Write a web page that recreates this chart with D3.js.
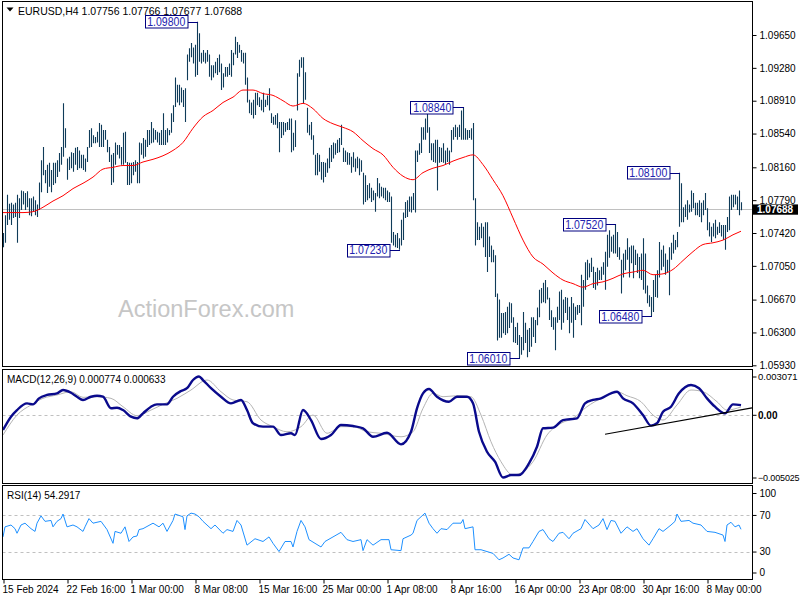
<!DOCTYPE html>
<html><head><meta charset="utf-8">
<script src="https://cdn.jsdelivr.net/npm/d3@7"></script>
<style>
body{margin:0;background:#fff}
svg{display:block}
text{font-family:"Liberation Sans",Arial,sans-serif}
</style>
</head><body><svg id="c" width="800" height="600"></svg>
<script>
// ---------------- DATA ----------------
const symbol = "EURUSD,H4";
const lastBar = {open:1.07756, high:1.07766, low:1.07677, close:1.07688};

const highs = [
1.0742,1.0762,1.0785,1.0775,1.0776,1.0774,1.0776,1.0785,1.0781,1.0790,
1.0789,1.0787,1.0789,1.0781,1.0781,1.0783,1.0779,1.0774,1.0799,1.0824,
1.0839,1.0813,1.0819,1.0821,1.0813,1.0821,1.0821,1.0824,1.0832,1.0839,
1.0888,1.0860,1.0826,1.0828,1.0833,1.0832,1.0838,1.0839,1.0835,1.0830,
1.0830,1.0826,1.0839,1.0858,1.0860,1.0852,1.0850,1.0856,1.0866,1.0864,
1.0858,1.0858,1.0847,1.0839,1.0830,1.0832,1.0844,1.0841,1.0841,1.0839,
1.0855,1.0856,1.0822,1.0821,1.0821,1.0822,1.0824,1.0822,1.0844,1.0843,
1.0849,1.0847,1.0858,1.0858,1.0867,1.0860,1.0858,1.0856,1.0855,1.0858,
1.0877,1.0858,1.0860,1.0858,1.0877,1.0886,1.0917,1.0909,1.0909,1.0906,
1.0903,1.0905,1.0943,1.0950,1.0956,1.0951,1.0954,1.0980,1.0967,1.0945,
1.0948,1.0945,1.0948,1.0943,1.0931,1.0931,1.0935,1.0939,1.0943,1.0933,
1.0922,1.0929,1.0929,1.0933,1.0948,1.0945,1.0963,1.0957,1.0954,1.0948,
1.0945,1.0945,1.0917,1.0892,1.0889,1.0892,1.0900,1.0900,1.0895,1.0892,
1.0900,1.0892,1.0897,1.0905,1.0877,1.0873,1.0875,1.0877,1.0867,1.0867,
1.0867,1.0866,1.0867,1.0871,1.0871,1.0855,1.0869,1.0922,1.0937,1.0940,
1.0940,1.0923,1.0883,1.0864,1.0867,1.0852,1.0830,1.0832,1.0830,1.0822,
1.0822,1.0821,1.0826,1.0838,1.0841,1.0844,1.0843,1.0847,1.0849,1.0864,
1.0838,1.0835,1.0833,1.0832,1.0828,1.0833,1.0826,1.0828,1.0826,1.0824,
1.0810,1.0807,1.0796,1.0798,1.0793,1.0790,1.0787,1.0804,1.0798,1.0794,
1.0793,1.0793,1.0790,1.0788,1.0783,1.0743,1.0740,1.0742,1.0736,1.0757,
1.0765,1.0777,1.0779,1.0783,1.0783,1.0787,1.0835,1.0835,1.0843,1.0861,
1.0861,1.0871,1.0878,1.0861,1.0843,1.0843,1.0847,1.0847,1.0839,1.0838,
1.0843,1.0835,1.0838,1.0835,1.0858,1.0861,1.0864,1.0861,1.0864,1.0880,
1.0884,1.0860,1.0858,1.0858,1.0860,1.0866,1.0781,1.0754,1.0749,1.0753,
1.0749,1.0754,1.0754,1.0738,1.0728,1.0723,1.0717,1.0674,1.0667,1.0652,
1.0652,1.0653,1.0659,1.0664,1.0663,1.0647,1.0636,1.0641,1.0627,1.0625,
1.0653,1.0641,1.0633,1.0635,1.0647,1.0647,1.0644,1.0658,1.0678,1.0680,
1.0686,1.0689,1.0681,1.0669,1.0655,1.0647,1.0647,1.0659,1.0676,1.0678,
1.0667,1.0670,1.0669,1.0659,1.0670,1.0663,1.0659,1.0661,1.0661,1.0695,
1.0689,1.0709,1.0712,1.0708,1.0714,1.0704,1.0698,1.0703,1.0700,1.0704,
1.0709,1.0721,1.0740,1.0745,1.0738,1.0740,1.0752,1.0743,1.0726,1.0712,
1.0719,1.0723,1.0736,1.0726,1.0728,1.0728,1.0723,1.0719,1.0715,1.0719,
1.0736,1.0719,1.0683,1.0672,1.0670,1.0689,1.0695,1.0700,1.0732,1.0723,
1.0728,1.0719,1.0712,1.0726,1.0731,1.0740,1.0734,1.0743,1.0810,1.0798,
1.0771,1.0774,1.0779,1.0774,1.0790,1.0787,1.0776,1.0776,1.0779,1.0776,
1.0779,1.0787,1.0770,1.0754,1.0749,1.0753,1.0757,1.0749,1.0754,1.0751,
1.0751,1.0751,1.0760,1.0783,1.0785,1.0785,1.0785,1.0783,1.0790,1.07766
];
const lows = [
1.0726,1.0731,1.0751,1.0757,1.0751,1.0759,1.0760,1.0731,1.0759,1.0768,
1.0774,1.0768,1.0771,1.0762,1.0761,1.0766,1.0762,1.0760,1.0768,1.0788,
1.0807,1.0798,1.0787,1.0794,1.0788,1.0796,1.0798,1.0805,1.0811,1.0819,
1.0828,1.0838,1.0802,1.0813,1.0815,1.0811,1.0819,1.0813,1.0815,1.0815,
1.0813,1.0811,1.0822,1.0838,1.0839,1.0843,1.0843,1.0844,1.0839,1.0839,
1.0839,1.0847,1.0833,1.0822,1.0796,1.0799,1.0819,1.0830,1.0826,1.0819,
1.0819,1.0821,1.0796,1.0796,1.0798,1.0807,1.0811,1.0798,1.0798,1.0830,
1.0826,1.0828,1.0839,1.0841,1.0843,1.0844,1.0847,1.0844,1.0841,1.0841,
1.0841,1.0841,1.0844,1.0852,1.0855,1.0867,1.0884,1.0889,1.0886,1.0889,
1.0884,1.0867,1.0914,1.0935,1.0940,1.0933,1.0918,1.0920,1.0935,1.0933,
1.0935,1.0933,1.0935,1.0918,1.0914,1.0917,1.0922,1.0920,1.0923,1.0903,
1.0906,1.0918,1.0918,1.0920,1.0918,1.0931,1.0943,1.0939,1.0945,1.0935,
1.0933,1.0909,1.0889,1.0877,1.0875,1.0871,1.0875,1.0886,1.0884,1.0880,
1.0878,1.0884,1.0886,1.0880,1.0866,1.0864,1.0864,1.0860,1.0833,1.0849,
1.0852,1.0856,1.0858,1.0858,1.0833,1.0835,1.0839,1.0880,1.0918,1.0928,
1.0888,1.0892,1.0855,1.0852,1.0847,1.0830,1.0807,1.0807,1.0811,1.0802,
1.0799,1.0805,1.0810,1.0815,1.0822,1.0826,1.0830,1.0832,1.0833,1.0841,
1.0822,1.0822,1.0819,1.0819,1.0810,1.0816,1.0811,1.0815,1.0807,1.0811,
1.0774,1.0777,1.0779,1.0781,1.0777,1.0779,1.0766,1.0783,1.0781,1.0783,
1.0781,1.0779,1.0777,1.0777,1.0731,1.0728,1.0726,1.0725,1.0723,1.0728,
1.0734,1.0759,1.0760,1.0766,1.0765,1.0768,1.0765,1.0822,1.0830,1.0832,
1.0847,1.0847,1.0855,1.0832,1.0824,1.0822,1.0821,1.0790,1.0821,1.0822,
1.0821,1.0819,1.0822,1.0819,1.0833,1.0847,1.0850,1.0847,1.0850,1.0847,
1.0847,1.0847,1.0847,1.0849,1.0847,1.0779,1.0728,1.0734,1.0734,1.0736,
1.0726,1.0715,1.0698,1.0715,1.0709,1.0709,1.0670,1.0621,1.0624,1.0624,
1.0629,1.0627,1.0629,1.0635,1.0641,1.0619,1.0618,1.0616,1.0601,1.0605,
1.0610,1.0618,1.0602,1.0608,1.0614,1.0625,1.0618,1.0638,1.0647,1.0663,
1.0664,1.0663,1.0667,1.0644,1.0636,1.0633,1.0610,1.0641,1.0644,1.0633,
1.0641,1.0652,1.0644,1.0629,1.0641,1.0624,1.0644,1.0650,1.0652,1.0638,
1.0659,1.0678,1.0689,1.0692,1.0698,1.0680,1.0678,1.0683,1.0689,1.0689,
1.0695,1.0678,1.0704,1.0714,1.0721,1.0719,1.0719,1.0715,1.0712,1.0674,
1.0692,1.0700,1.0712,1.0692,1.0708,1.0691,1.0706,1.0697,1.0691,1.0689,
1.0678,1.0674,1.0663,1.0659,1.0648,1.0653,1.0670,1.0669,1.0692,1.0700,
1.0704,1.0695,1.0698,1.0672,1.0712,1.0719,1.0723,1.0726,1.0749,1.0754,
1.0754,1.0760,1.0757,1.0765,1.0766,1.0770,1.0762,1.0762,1.0760,1.0754,
1.0762,1.0768,1.0745,1.0738,1.0732,1.0738,1.0736,1.0740,1.0742,1.0738,
1.0734,1.0723,1.0743,1.0745,1.0768,1.0771,1.0774,1.0768,1.0762,1.07677
];

// moving average (red line), sampled along the bars
const maIdx = [0,5,10,15,20,25,30,35,40,45,50,55,60,65,70,75,80,85,90,95,100,105,110,115,120,125,130,135,140,145,150,155,160,165,170,175,180,185,190,195,200,205,210,215,220,225,230,235,240,245,250,255,260,265,270,275,280,285,290,295,300,305,310,315,320,325,330,335,340,345,350,355,360,365,369];
const maVal = [1.0765,1.0765,1.0765,1.0766,1.0771,1.0778,1.0784,1.0792,1.0798,1.0805,1.0814,1.0816,1.0818,1.0818,1.0822,1.0825,1.0829,1.0835,1.0844,1.0860,1.0873,1.0880,1.0889,1.0895,1.0903,1.0903,1.0899,1.0897,1.0891,1.0885,1.0888,1.0882,1.0871,1.0865,1.0861,1.0856,1.0846,1.0837,1.0830,1.0816,1.0806,1.0802,1.0810,1.0815,1.0818,1.0823,1.0827,1.0830,1.0819,1.0802,1.0784,1.0759,1.0734,1.0715,1.0707,1.0697,1.0689,1.0685,1.0681,1.0685,1.0687,1.0691,1.0696,1.0698,1.0700,1.0695,1.0696,1.0701,1.0711,1.0721,1.0729,1.0731,1.0734,1.0740,1.0744];

// labelled swing points
const swingIdx   = [97, 198, 230, 258, 306, 324, 338];
const swingPrice = [1.09800, 1.07230, 1.08840, 1.06010, 1.07520, 1.06480, 1.08100];

const priceTicks = [1.0965,1.0928,1.0891,1.0854,1.0816,1.0779,1.0742,1.0705,1.0667,1.0630,1.0593];
const timeTickIdx = [0,32,64,96,128,160,192,224,256,288,320,352];
const timeTickLabels = ["15 Feb 2024","22 Feb 16:00","1 Mar 00:00","8 Mar 08:00","15 Mar 16:00","25 Mar 00:00","1 Apr 08:00","8 Apr 16:00","16 Apr 00:00","23 Apr 08:00","30 Apr 16:00","8 May 00:00"];

// MACD(12,26,9)
const macdLast = 0.000774, signalLast = 0.000633;
const macdIdx = [0,4,7,12,15,18,22,27,30,34,37,40,44,47,50,54,57,60,64,67,70,74,77,82,85,89,92,95,98,100,104,109,114,119,122,125,130,135,139,144,146,150,154,159,164,169,175,180,185,192,199,204,207,210,213,217,223,227,232,235,238,242,246,250,254,258,263,267,270,275,280,287,291,295,299,304,307,310,315,320,324,327,330,334,338,344,348,352,356,361,365,369];
const macdVal = [-0.00122,-0.00015,0.00038,0.00092,0.00084,0.00132,0.00159,0.00172,0.00199,0.00177,0.00145,0.00119,0.00145,0.00153,0.00145,0.00052,0.00057,0.00038,-0.00015,-0.00028,0.00012,0.00065,0.00084,0.00084,0.00145,0.00191,0.00213,0.00279,0.003071,0.00279,0.00213,0.00145,0.00092,0.00119,0.00038,-0.00068,-0.00095,-0.00095,-0.00162,-0.00148,-0.00162,0.00038,-0.00042,-0.00194,-0.00162,-0.00082,-0.00090,-0.00108,-0.00176,-0.00144,-0.00237,-0.00136,0.00052,0.00172,0.00207,0.00145,0.00105,0.00145,0.00145,0.00092,-0.00136,-0.00296,-0.00376,-0.005025,-0.00483,-0.00483,-0.00389,-0.00256,-0.00108,-0.00103,-0.00042,-0.00028,0.00092,0.00119,0.00132,0.00172,0.00185,0.00132,0.00092,-0.00002,-0.00087,-0.00068,0.00025,0.00065,0.00172,0.00239,0.00213,0.00132,0.00065,0.00012,0.00084,0.000774];
const signalIdx = [0,7,14,20,27,34,40,47,54,60,67,74,80,87,94,102,109,115,122,129,135,142,149,155,162,169,175,182,189,199,205,210,215,220,227,234,239,244,249,255,260,265,272,279,285,292,299,307,312,319,325,330,337,344,350,357,362,369];
const signalVal = [-0.00162,-0.00002,0.00079,0.00132,0.00159,0.00185,0.00140,0.00145,0.00132,0.00065,-0.00007,0.00038,0.00084,0.00132,0.00199,0.00279,0.00185,0.00119,0.00105,-0.00042,-0.00095,-0.00136,-0.00095,-0.00002,-0.00148,-0.00095,-0.00095,-0.00136,-0.00148,-0.00176,-0.00136,0.00052,0.00172,0.00145,0.00153,0.00145,-0.00002,-0.00216,-0.00376,-0.00483,-0.00456,-0.00376,-0.00162,-0.00068,-0.00028,0.00065,0.00132,0.00185,0.00153,0.00105,-0.00002,-0.00042,0.00079,0.00199,0.00185,0.00105,0.00038,0.000633];
const macdTicks = [0.003071, 0, -0.005025];
// trend line drawn on the MACD panel (bar index, MACD value)
const macdTrendIdx = [301, 374.5];
const macdTrendVal = [-0.00156, 0.00055];

// RSI(14)
const rsiLast = 54.2917;
const rsiIdx = [0,1,4,6,7,9,11,14,16,17,19,21,24,25,27,29,30,32,35,37,40,41,43,45,49,52,55,56,59,61,63,65,67,68,70,75,78,80,82,85,86,90,91,92,94,96,98,100,104,106,110,112,115,117,119,122,126,130,133,135,138,141,144,145,147,149,151,153,156,159,161,165,169,172,175,179,180,182,185,189,193,194,199,200,204,205,207,209,211,213,215,217,219,222,225,229,230,231,235,236,239,242,245,248,250,253,255,258,260,263,265,268,270,273,275,278,280,283,285,289,291,295,298,300,302,304,306,309,312,315,317,320,323,325,328,330,334,336,337,339,343,345,349,352,356,360,361,362,364,366,368,369];
const rsiVal = [46,57,59,55,50,59,61,55,52,61,69,63,64,57,63,66,71,57,59,57,52,57,66,61,63,54,39,52,50,57,41,46,47,54,55,61,57,61,52,64,71,68,54,69,72,71,68,63,55,59,50,54,52,64,59,37,44,41,46,39,30,41,41,35,52,64,57,43,39,35,41,46,51,43,41,43,31,43,37,43,43,32,31,44,48,50,64,68,72,61,55,50,55,54,61,61,65,55,57,32,32,30,28,21,23,27,23,21,34,34,41,52,54,44,41,50,51,44,50,55,65,55,59,66,54,64,63,50,57,52,55,44,37,44,55,52,59,63,71,63,64,61,59,52,51,48,41,59,62,57,59,54.2917];
const rsiTicks = [100, 70, 30, 0];
const rsiLevels = [70, 30];

// ---------------- DRAWING ----------------
const svg = d3.select("#c");
const fmt5 = d3.format(".5f");
const L = 2.5, R = 752.5;
const P = {
  main: {top: 1.5, bottom: 366.5},
  macd: {top: 369.5, bottom: 483.5},
  rsi:  {top: 485.5, bottom: 579.5}
};

const x  = d3.scaleLinear().domain([0, 369]).range([3, 741]);
const yP = d3.scaleLinear().domain([1.0593, 1.0965]).range([365.3, 35]);
const yM = d3.scaleLinear().domain([-0.005025, 0.003071]).range([477.5, 376.5]);
const yR = d3.scaleLinear().domain([0, 100]).range([579, 487.5]);

const defs = svg.append("defs");
Object.entries(P).forEach(([k, p]) => {
  defs.append("clipPath").attr("id", "clip-" + k)
    .append("rect").attr("x", L).attr("y", p.top).attr("width", R - L).attr("height", p.bottom - p.top);
});

// watermark
svg.append("text").attr("x", 118).attr("y", 317).attr("font-size", 23.5)
  .attr("fill", "#c6c6c6").text("ActionForex.com");

// ----- main panel -----
const gm = svg.append("g").attr("clip-path", "url(#clip-main)");
// current price line
gm.append("line").attr("x1", L).attr("x2", R)
  .attr("y1", Math.round(yP(lastBar.close)) + 0.5).attr("y2", Math.round(yP(lastBar.close)) + 0.5)
  .attr("stroke", "#c0c0c0").attr("stroke-width", 1);

// bars
const barIdx = d3.range(highs.length);
gm.append("g").selectAll("line").data(barIdx).join("line")
  .attr("x1", i => x(i) + 0.5).attr("x2", i => x(i) + 0.5)
  .attr("y1", i => yP(highs[i])).attr("y2", i => yP(lows[i]))
  .attr("stroke", "#0f3b59").attr("stroke-width", 1.1);

// moving average
gm.append("path")
  .datum(maIdx.map((d, k) => [d, maVal[k]]))
  .attr("fill", "none").attr("stroke", "#ff0000").attr("stroke-width", 1)
  .attr("d", d3.line().x(d => x(d[0])).y(d => yP(d[1])).curve(d3.curveMonotoneX));

// swing labels
const sw = gm.append("g").selectAll("g").data(swingIdx.map((d, k) => ({i: d, p: swingPrice[k]}))).join("g");
const boxW = 42.5, boxH = 12.5, gap = 10;
sw.append("line")
  .attr("x1", d => x(d.i) - gap).attr("x2", d => x(d.i) + 1)
  .attr("y1", d => Math.round(yP(d.p)) + 0.5).attr("y2", d => Math.round(yP(d.p)) + 0.5)
  .attr("stroke", "#000080").attr("stroke-width", 1);
sw.append("rect")
  .attr("x", d => Math.round(x(d.i) - gap - boxW) + 0.5)
  .attr("y", d => Math.round(yP(d.p) - boxH / 2) + 0.5)
  .attr("width", boxW).attr("height", boxH)
  .attr("fill", "#fff").attr("stroke", "#000080").attr("stroke-width", 1);
sw.append("text")
  .attr("x", d => x(d.i) - gap - boxW / 2 + 0.5)
  .attr("y", d => yP(d.p) + 4.6)
  .attr("text-anchor", "middle").attr("font-size", 12.5).attr("fill", "#2323b0")
  .attr("textLength", 38).attr("lengthAdjust", "spacingAndGlyphs")
  .text(d => fmt5(d.p));

// ----- MACD panel -----
const gmc = svg.append("g").attr("clip-path", "url(#clip-macd)");
gmc.append("line").attr("x1", L).attr("x2", R)
  .attr("y1", Math.round(yM(0)) + 0.5).attr("y2", Math.round(yM(0)) + 0.5)
  .attr("stroke", "#c0c0c0").attr("stroke-dasharray", "3,3");
gmc.append("path")
  .datum(signalIdx.map((d, k) => [d, signalVal[k]]))
  .attr("fill", "none").attr("stroke", "#b4b4b4").attr("stroke-width", 1)
  .attr("d", d3.line().x(d => x(d[0])).y(d => yM(d[1])).curve(d3.curveMonotoneX));
gmc.append("path")
  .datum(macdIdx.map((d, k) => [d, macdVal[k]]))
  .attr("fill", "none").attr("stroke", "#0a0a8c").attr("stroke-width", 2.4)
  .attr("stroke-linejoin", "round")
  .attr("d", d3.line().x(d => x(d[0])).y(d => yM(d[1])).curve(d3.curveMonotoneX));
gmc.append("line")
  .attr("x1", x(macdTrendIdx[0])).attr("y1", yM(macdTrendVal[0]))
  .attr("x2", x(macdTrendIdx[1])).attr("y2", yM(macdTrendVal[1]))
  .attr("stroke", "#000").attr("stroke-width", 1.2);

// ----- RSI panel -----
const gr = svg.append("g").attr("clip-path", "url(#clip-rsi)");
gr.selectAll("line.lvl").data(rsiLevels).join("line").attr("class", "lvl")
  .attr("x1", L).attr("x2", R)
  .attr("y1", d => Math.round(yR(d)) + 0.5).attr("y2", d => Math.round(yR(d)) + 0.5)
  .attr("stroke", "#c0c0c0").attr("stroke-dasharray", "3,3");
gr.append("path")
  .datum(rsiIdx.map((d, k) => [d, rsiVal[k]]))
  .attr("fill", "none").attr("stroke", "#1e90ff").attr("stroke-width", 1)
  .attr("d", d3.line().x(d => x(d[0])).y(d => yR(d[1])));

// ----- panel frames -----
Object.values(P).forEach(p => {
  svg.append("rect").attr("x", L).attr("y", p.top).attr("width", R - L).attr("height", p.bottom - p.top)
    .attr("fill", "none").attr("stroke", "#000").attr("stroke-width", 1);
});

// ----- axes -----
function styleAxis(g) {
  g.select(".domain").remove();
  g.selectAll(".tick line").attr("stroke", "#000");
  g.selectAll(".tick text").attr("font-size", 10).attr("fill", "#000")
    .attr("font-family", '"Liberation Sans",Arial,sans-serif');
}
svg.append("g").attr("transform", `translate(${R},0)`)
  .call(d3.axisRight(yP).tickValues(priceTicks).tickFormat(fmt5).tickSize(4).tickPadding(3))
  .call(styleAxis);
const mAx = svg.append("g").attr("transform", `translate(${R},0)`)
  .call(d3.axisRight(yM).tickValues(macdTicks).tickFormat(d => d === 0 ? "0.00" : d3.format(".6f")(d)).tickSize(4).tickPadding(1.5))
  .call(styleAxis);
mAx.selectAll(".tick text").filter(d => d > 0).attr("font-size", 9.5);
mAx.selectAll(".tick text").filter(d => d < 0).attr("font-size", 9).attr("letter-spacing", -0.15);
mAx.selectAll(".tick text").filter(d => d === 0).attr("font-weight", "bold");
const rAx = svg.append("g").attr("transform", `translate(${R},0)`)
  .call(d3.axisRight(yR).tickValues(rsiTicks).tickSize(4).tickPadding(3))
  .call(styleAxis);
rAx.selectAll(".tick").filter(d => d === 100).attr("transform", `translate(0,${yR(100) + 6})`);
rAx.selectAll(".tick").filter(d => d === 0).attr("transform", `translate(0,${yR(0) - 6})`);

const xAx = svg.append("g").attr("transform", `translate(0,${P.rsi.bottom})`)
  .call(d3.axisBottom(x).tickValues(timeTickIdx).tickFormat((d, k) => timeTickLabels[k]).tickSize(4).tickPadding(2))
  .call(styleAxis);
xAx.selectAll(".tick line").attr("transform", "translate(0.5,0)");
xAx.selectAll(".tick text").attr("text-anchor", "start").attr("dx", -1);

// current price tag
const cy = yP(lastBar.close);
svg.append("rect").attr("x", 753).attr("y", cy - 4.8).attr("width", 45).attr("height", 10.3).attr("fill", "#000");
svg.append("text").attr("x", 757).attr("y", cy + 3.8).attr("font-size", 10).attr("font-weight", "bold")
  .attr("fill", "#fff").text(fmt5(lastBar.close));

// ----- headers -----
svg.append("path").attr("d", "M6.5,7.5 L13.5,7.5 L10,11.5 Z").attr("fill", "#000");
svg.append("text").attr("x", 18).attr("y", 14.5).attr("font-size", 10.5).attr("fill", "#000")
  .text(`${symbol}  ${fmt5(lastBar.open)} ${fmt5(lastBar.high)} ${fmt5(lastBar.low)} ${fmt5(lastBar.close)}`);
svg.append("text").attr("x", 7).attr("y", 383).attr("font-size", 10).attr("fill", "#000")
  .text(`MACD(12,26,9) ${macdLast.toFixed(6)} ${signalLast.toFixed(6)}`);
svg.append("text").attr("x", 7).attr("y", 498.5).attr("font-size", 10).attr("fill", "#000")
  .text(`RSI(14) ${rsiLast.toFixed(4)}`);
</script>
</body></html>
